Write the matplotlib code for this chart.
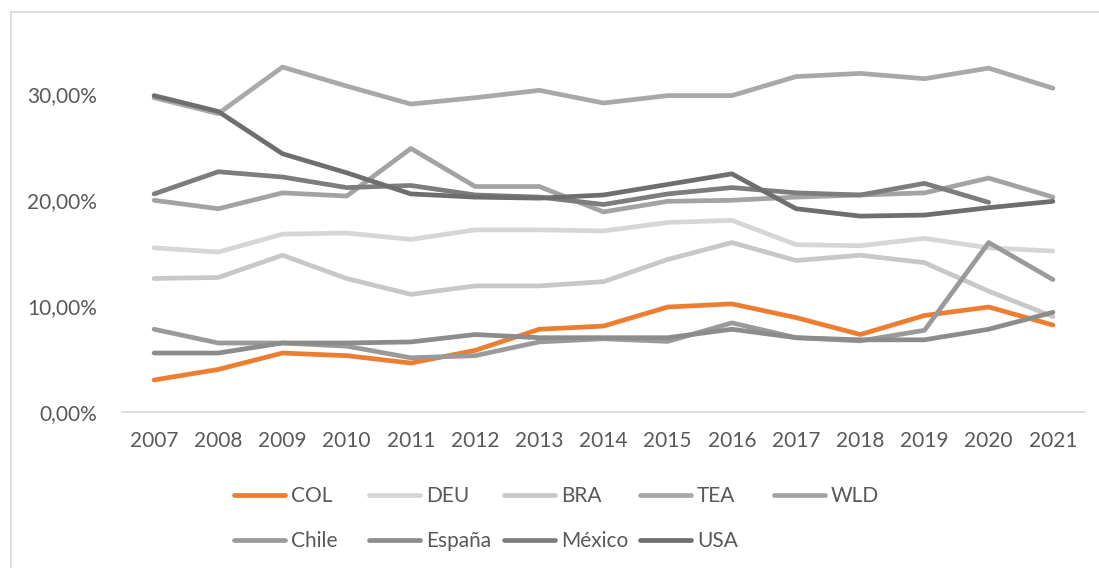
import matplotlib.pyplot as plt
from matplotlib.lines import Line2D
from matplotlib.ticker import FuncFormatter

plt.rcParams['font.family'] = ['Lato', 'DejaVu Sans']

# Datos (en %)
years = ['2007', '2008', '2009', '2010', '2011', '2012', '2013', '2014',
         '2015', '2016', '2017', '2018', '2019', '2020', '2021']
col = [3.0, 4.0, 5.55, 5.3, 4.6, 5.8, 7.8, 8.1, 9.9, 10.2, 8.9, 7.3, 9.1, 9.9, 8.2]
deu = [15.5, 15.1, 16.8, 16.9, 16.3, 17.2, 17.2, 17.1, 17.9, 18.1, 15.8, 15.7, 16.4, 15.5, 15.2]
bra = [12.6, 12.7, 14.8, 12.6, 11.1, 11.9, 11.9, 12.3, 14.4, 16.0, 14.3, 14.8, 14.1, 11.4, 9.0]
tea = [29.7, 28.2, 32.6, 30.8, 29.1, 29.7, 30.4, 29.2, 29.9, 29.9, 31.7, 32.0, 31.5, 32.5, 30.6]
wld = [20.0, 19.2, 20.7, 20.4, 24.9, 21.3, 21.3, 18.9, 19.9, 20.0, 20.3, 20.5, 20.7, 22.1, 20.3]
chile = [7.8, 6.5, 6.5, 6.2, 5.1, 5.3, 6.6, 6.9, 6.65, 8.4, 7.0, 6.7, 7.7, 16.0, 12.5]
espana = [5.55, 5.55, 6.5, 6.5, 6.6, 7.3, 7.0, 7.0, 7.0, 7.8, 7.0, 6.8, 6.8, 7.8, 9.4]
mexico = [20.6, 22.7, 22.2, 21.2, 21.4, 20.5, 20.3, 19.6, 20.6, 21.2, 20.7, 20.5, 21.6, 19.8, None]
usa = [29.9, 28.4, 24.4, 22.6, 20.6, 20.3, 20.2, 20.5, 21.5, 22.5, 19.2, 18.5, 18.6, 19.3, 19.9]

names = ['COL', 'DEU', 'BRA', 'TEA', 'WLD', 'Chile', 'España', 'México', 'USA']
series = [col, deu, bra, tea, wld, chile, espana, mexico, usa]
colors = ['#ED7D31', '#D6D6D6', '#C8C8C8', '#A9A9A9', '#A3A3A3',
          '#9A9A9A', '#8C8C8C', '#7D7D7D', '#6E6E6E']

fig = plt.figure(figsize=(10.99, 5.68), dpi=100)
ax = fig.add_axes([122 / 1099, 156.3 / 568, 963 / 1099, 370 / 568])

x = list(range(len(years)))
lines = []
for vals, name, c in zip(series, names, colors):
    xs = [i for i, v in zip(x, vals) if v is not None]
    ys = [v / 100 for v in vals if v is not None]
    ln, = ax.plot(xs, ys, color=c, lw=3.4, label=name,
                  solid_capstyle='round', solid_joinstyle='round')
    lines.append(ln)

ax.set_xlim(-0.5, len(years) - 0.5)
ax.set_ylim(0, 0.35)
ax.set_yticks([0, 0.1, 0.2, 0.3])
ax.yaxis.set_major_formatter(FuncFormatter(lambda v, p: f'{v * 100:.2f}%'.replace('.', ',')))
ax.set_xticks(x)
ax.set_xticklabels(years)
ax.tick_params(axis='both', length=0, labelsize=15, labelcolor='#595959')
ax.tick_params(axis='y', pad=18)
ax.tick_params(axis='x', pad=14)

for s in ['top', 'right', 'left']:
    ax.spines[s].set_visible(False)
ax.spines['bottom'].set_color('#D9D9D9')
ax.spines['bottom'].set_linewidth(1.2)

# Leyenda: 5 columnas a mano (como Excel)
col_x = [233.5, 368.5, 503.5, 639.5, 773.5]
for i, cx in enumerate(col_x):
    hs = lines[i::5]
    fig.legend(handles=hs, labels=[h.get_label() for h in hs],
               loc='upper left', bbox_to_anchor=(cx / 1099, 1 - 486 / 568),
               frameon=False, fontsize=15, labelcolor='#595959',
               handlelength=2.45, handletextpad=0.3, labelspacing=1.2,
               borderpad=0, borderaxespad=0)

# Borde del área del gráfico
fig.add_artist(Line2D([11 / 1099, 11 / 1099], [0, 1 - 12 / 568], color='#D9D9D9', lw=1.2))
fig.add_artist(Line2D([11 / 1099, 1], [1 - 12 / 568, 1 - 12 / 568], color='#D9D9D9', lw=1.2))

fig.savefig('out.png', dpi=100)
